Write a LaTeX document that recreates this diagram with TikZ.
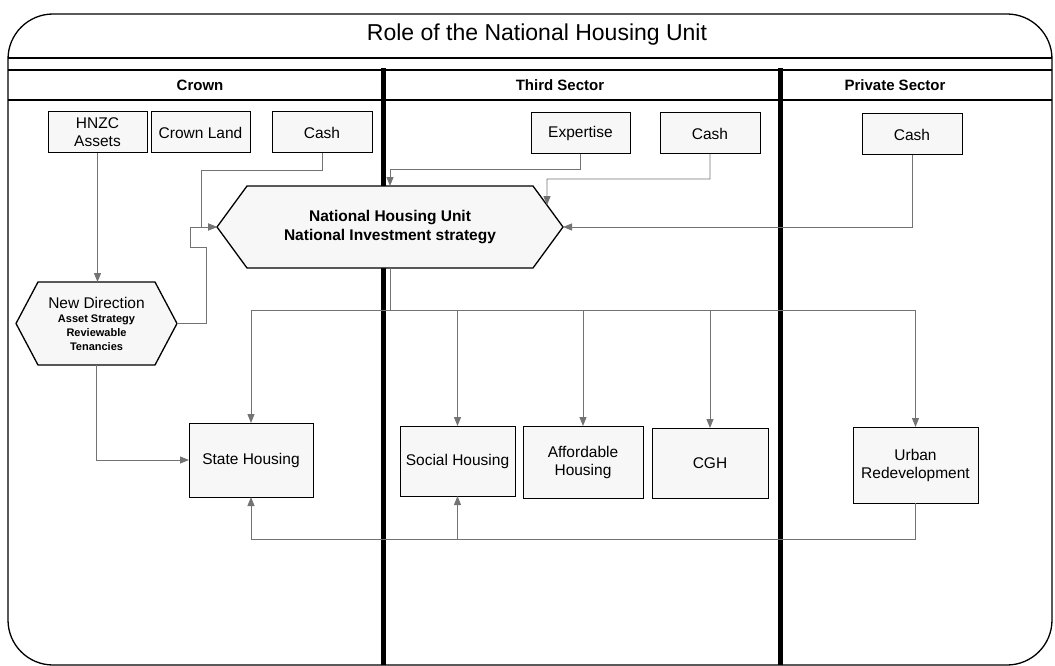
\documentclass[tikz,border=0pt]{standalone}
\usepackage{fontspec}
\setmainfont{Liberation Sans}
\usetikzlibrary{arrows.meta,calc}
\definecolor{connc}{RGB}{115,115,115}
\definecolor{boxfill}{RGB}{247,247,247}
\begin{document}
\begin{tikzpicture}[x=1pt,y=-1pt,
  frame/.style={line width=1.3pt},
  lane/.style={line width=5pt},
  hdr/.style={font=\fontsize{15}{17}\selectfont\bfseries},
  box/.style={draw=black,line width=1pt,fill=boxfill,inner sep=0pt,outer sep=0pt,align=center,font=\fontsize{15.5}{18}\selectfont},
  hexa/.style={inner sep=0pt,outer sep=0pt,align=center},
  hexline/.style={draw=black,line width=1.3pt,fill=boxfill},
  conn/.style={draw=connc,line width=0.9pt},
  arr/.style={conn,-{Triangle[length=9pt,width=7pt]}}
]
\useasboundingbox (0,0) rectangle (1055,666);
% frame and lanes
\draw[frame,rounded corners=45pt] (8,14) rectangle (1052,665);
\draw[frame] (8,58) -- (1052,58);
\draw[frame] (8,70) -- (1052,70);
\draw[frame] (8,100) -- (1052,100);
\draw[lane] (383,68) -- (383,665);
\draw[lane] (780,68) -- (780,665);
\node (title) at (537,35) {\fontsize{23}{26}\selectfont Role of the National Housing Unit};
\node[hdr] (hcrown) at (200,85) {Crown};
\node[hdr] (hthird) at (560,85) {Third Sector};
\node[hdr] (hpriv) at (895,85) {Private Sector};
% input boxes
\node[box,minimum width=99pt,minimum height=41pt] (hnzc) at (97.5,132.5) {HNZC\\Assets};
\node[box,minimum width=99pt,minimum height=41pt] (crownland) at (200.5,132.5) {Crown Land};
\node[box,minimum width=100pt,minimum height=41pt] (cash1) at (322,132.5) {Cash};
\node[box,minimum width=99pt,minimum height=41pt] (expertise) at (580.5,133.5) {Expertise};
\node[box,minimum width=100pt,minimum height=41pt] (cash2) at (710,133.5) {Cash};
\node[box,minimum width=100pt,minimum height=41pt] (cash3) at (912,134.5) {Cash};
% hexagons
\draw[hexline] (217,227) -- (247,186) -- (533,186) -- (563,227) -- (533,268) -- (247,268) -- cycle;
\node[hexa,minimum width=346pt,minimum height=82pt,font=\fontsize{15.5}{19}\selectfont\bfseries] (nhu) at (390,227) {National Housing Unit\\National Investment strategy};
\coordinate (nhutr) at (533,186);
\coordinate (e1) at ($(nhutr)!0.467!(nhu.east)$);
\draw[hexline] (16,323.5) -- (38,282) -- (155,282) -- (177,323.5) -- (155,365) -- (38,365) -- cycle;
\node[hexa,minimum width=161pt,minimum height=83pt,font=\fontsize{11}{14}\selectfont\bfseries] (newdir) at (96.5,323.5) {{\fontsize{15.5}{17}\selectfont\mdseries New Direction}\\Asset Strategy\\Reviewable\\Tenancies};
% output boxes
\node[box,minimum width=124pt,minimum height=74pt] (state) at (251,460) {State Housing};
\node[box,minimum width=115pt,minimum height=70pt] (social) at (457.5,461) {Social Housing};
\node[box,minimum width=120pt,minimum height=72pt] (afford) at (583,462) {Affordable\\Housing};
\node[box,minimum width=116pt,minimum height=70pt] (cgh) at (710,463) {CGH};
\node[box,minimum width=125pt,minimum height=76pt] (urban) at (915.5,465) {Urban\\Redevelopment};
% connectors
\draw[arr] (hnzc.south) -- (hnzc.south |- newdir.north);
\coordinate (j1) at (201,170);
\draw[arr] (cash1.south) |- (j1) -- (j1 |- nhu.west) -- (nhu.west);
\coordinate (j2) at (206,247);
\coordinate (j3) at (190,247);
\draw[arr] (newdir.east) -| (j2) -- (j3) -- (j3 |- nhu.west) -- (nhu.west);
\coordinate (j4) at (390,169);
\draw[arr] (expertise.south) |- (j4) -- (nhu.north);
\coordinate (j5) at (547,179);
\draw[arr] (cash2.south) |- (j5) -- (e1);
\draw[arr] (cash3.south) |- (nhu.east);
\coordinate (hub) at (390,310);
\draw[conn] (nhu.south) -- (hub);
\draw[conn] (state.north |- hub) -- (urban.north |- hub);
\foreach \n in {state,social,afford,cgh,urban} \draw[arr] (\n.north |- hub) -- (\n.north);
\coordinate (low) at (0,539);
\draw[conn] (urban.south) -- (urban.south |- low) -- (state.south |- low);
\draw[arr] (state.south |- low) -- (state.south);
\draw[arr] (social.south |- low) -- (social.south);
\draw[arr] (newdir.south) |- (state.west);
\end{tikzpicture}
\end{document}
